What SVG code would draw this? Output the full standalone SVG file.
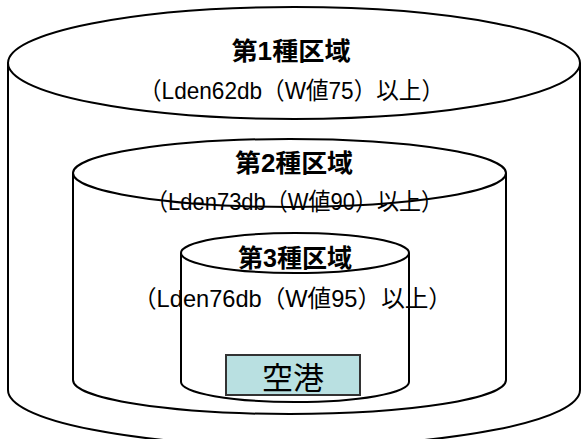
<svg xmlns="http://www.w3.org/2000/svg" width="581" height="439" viewBox="0 0 581 439">
<style>
.cyl{fill:none;stroke:#000;stroke-width:2}
.t{font-family:"Liberation Sans","Noto Sans CJK JP",sans-serif;fill:#000;text-anchor:middle}
.h{font-size:25px;font-weight:bold}
.s{font-size:24px}
</style>
<rect width="581" height="439" fill="#fff"/>
<g id="zone1">
<path class="cyl" d="M8 63 A286 56 0 0 1 580 63 A286 56 0 0 1 8 63 Z M8 63 V390 A286 56 0 0 0 580 390 V63"/>
<text class="t h" x="291" y="60" textLength="119" lengthAdjust="spacingAndGlyphs">第1種区域</text>
<text class="t s" x="291.5" y="99" textLength="305" lengthAdjust="spacingAndGlyphs">（Lden62db（W値75）以上）</text>
</g>
<g id="zone2">
<path class="cyl" d="M73 173 A216.5 34 0 0 1 506 173 A216.5 34 0 0 1 73 173 Z M73 173 V380 A216.5 34 0 0 0 506 380 V173"/>
<text class="t h" x="294" y="172" textLength="118" lengthAdjust="spacingAndGlyphs">第2種区域</text>
<text class="t s" x="294.5" y="210" textLength="297" lengthAdjust="spacingAndGlyphs">（Lden73db（W値90）以上）</text>
</g>
<g id="zone3">
<path class="cyl" d="M181 253 A114 20 0 0 1 409 253 A114 20 0 0 1 181 253 Z M181 253 V382 A114 20 0 0 0 409 382 V253"/>
<text class="t h" x="295" y="267" textLength="114" lengthAdjust="spacingAndGlyphs">第3種区域</text>
<text class="t s" x="292.5" y="307" textLength="319" lengthAdjust="spacingAndGlyphs">（Lden76db（W値95）以上）</text>
</g>
<g id="airport">
<rect x="226" y="355" width="134" height="40" fill="#b9e0e1" stroke="#333" stroke-width="2"/>
<text class="t" x="293" y="389" font-size="31">空港</text>
</g>
<g id="connectors"/>
</svg>
